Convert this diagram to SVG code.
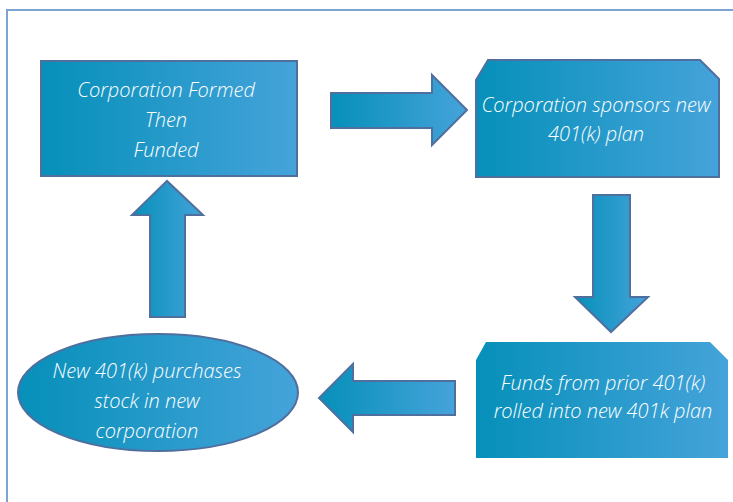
<svg xmlns="http://www.w3.org/2000/svg" width="733" height="502" viewBox="0 0 733 502">
  <defs>
    <linearGradient id="fillH" x1="0" y1="0" x2="1" y2="0">
      <stop offset="0" stop-color="#0690b9"/>
      <stop offset="1" stop-color="#45a3da"/>
    </linearGradient>
    <style>
      .frame { fill: none; stroke: #7da3cf; stroke-width: 2; }
      .shape { fill: url(#fillH); stroke: #4f6f9f; stroke-width: 2; stroke-linejoin: miter; }
      .flat { fill: url(#fillH); stroke: none; }
      .arrow { fill: url(#fillH); stroke: #4f6f9f; stroke-width: 2; stroke-linejoin: miter; }
      .label { font-family: "Open Sans", "Liberation Sans", sans-serif; font-style: italic; font-weight: 300; font-size: 20px; fill: #ffffff; text-anchor: middle; }
    </style>
  </defs>

  <rect width="733" height="502" fill="#ffffff"/>
  <!-- outer frame, running off the right and bottom edges -->
  <path class="frame" d="M7 503 V10 H734"/>

  <g id="node-formed">
    <rect class="shape" x="41" y="61" width="256" height="115"/>
    <text class="label" x="166" y="97">Corporation Formed</text>
    <text class="label" x="166" y="127">Then</text>
    <text class="label" x="166" y="157">Funded</text>
  </g>

  <g id="node-sponsors">
    <path class="shape" d="M488 60 H700 L719 79 V177 H476 V80 Z"/>
    <text class="label" x="596" y="112">Corporation sponsors new</text>
    <text class="label" x="596" y="141">401(k) plan</text>
  </g>

  <g id="node-rollover">
    <path class="flat" d="M486 342 H710 L728 360 V458 H476 V360 Z"/>
    <text class="label" x="603" y="390">Funds from prior 401(k)</text>
    <text class="label" x="603" y="418">rolled into new 401k plan</text>
  </g>

  <g id="node-purchase">
    <ellipse class="shape" cx="158" cy="392.5" rx="140" ry="58.5"/>
    <text class="label" x="147" y="378">New 401(k) purchases</text>
    <text class="label" x="147" y="408">stock in new</text>
    <text class="label" x="147" y="438">corporation</text>
  </g>

  <g id="connectors">
    <path class="arrow" d="M331 93 H432 V75 L467 110 L432 145 V128 H331 Z"/>
    <path class="arrow" d="M593 195 H630 V297 H648 L611 332 L575 297 H593 Z"/>
    <path class="arrow" d="M455 381 V415 H353 V432 L319 398 L353 364 V381 Z"/>
    <path class="arrow" d="M150 317 V215 H132 L167 181 L203 215 H185 V317 Z"/>
  </g>
</svg>
